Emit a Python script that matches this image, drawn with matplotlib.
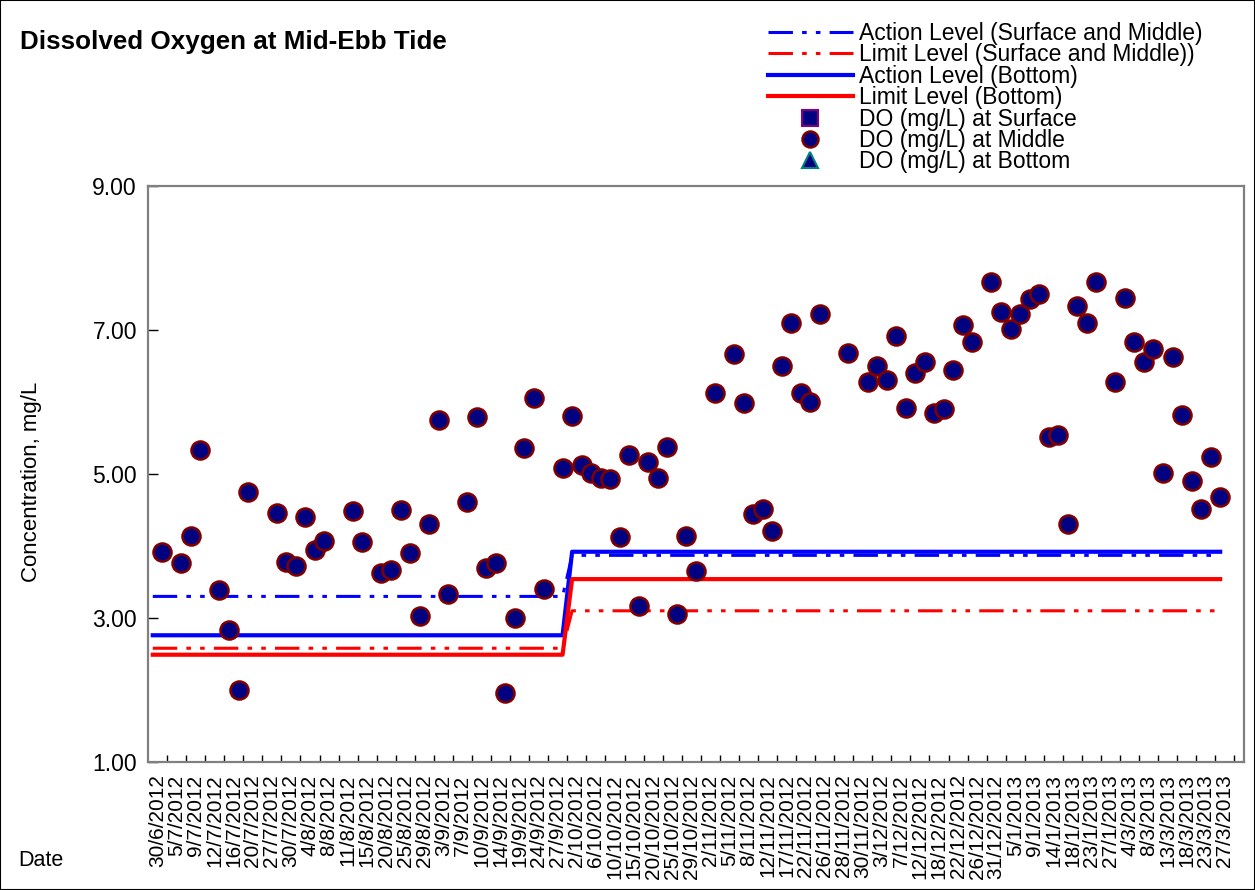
import numpy as np
import matplotlib.pyplot as plt
from matplotlib.patches import Rectangle

plt.rcParams['font.family'] = ['Liberation Sans', 'DejaVu Sans']

# category labels (every second sampling day is labelled)
date_labels = ["30/6/2012", "5/7/2012", "9/7/2012", "12/7/2012", "16/7/2012", "20/7/2012",
               "27/7/2012", "30/7/2012", "4/8/2012", "8/8/2012", "11/8/2012", "15/8/2012",
               "20/8/2012", "25/8/2012", "29/8/2012", "3/9/2012", "7/9/2012", "10/9/2012",
               "14/9/2012", "19/9/2012", "24/9/2012", "27/9/2012", "2/10/2012", "6/10/2012",
               "10/10/2012", "15/10/2012", "20/10/2012", "25/10/2012", "29/10/2012",
               "2/11/2012", "5/11/2012", "8/11/2012", "12/11/2012", "17/11/2012",
               "22/11/2012", "26/11/2012", "28/11/2012", "30/11/2012", "3/12/2012",
               "7/12/2012", "12/12/2012", "18/12/2012", "22/12/2012", "26/12/2012",
               "31/12/2012", "5/1/2013", "9/1/2013", "14/1/2013", "18/1/2013", "23/1/2013",
               "27/1/2013", "4/3/2013", "8/3/2013", "13/3/2013", "18/3/2013", "23/3/2013",
               "27/3/2013"]
n_cat = 115

nan = np.nan
# DO (mg/L) per category, mid-ebb
do_middle = [nan, 3.91, nan, 3.77, 4.14, 5.33, nan, 3.39, 2.84, 2.00,
             4.75, nan, nan, 4.46, 3.78, 3.72, 4.40, 3.95, 4.07, nan,
             nan, 4.49, 4.06, nan, 3.63, 3.67, 4.50, 3.90, 3.03, 4.31,
             5.75, 3.34, nan, 4.61, 5.79, 3.70, 3.76, 1.96, 3.00, 5.36,
             6.05, 3.40, nan, 5.08, 5.80, 5.13, 5.02, 4.94, 4.93, 4.12,
             5.26, 3.16, 5.16, 4.95, 5.38, 3.06, 4.14, 3.65, nan, 6.13,
             nan, 6.67, 5.99, 4.45, 4.51, 4.21, 6.50, 7.10, 6.12, 6.00,
             7.22, nan, nan, 6.68, nan, 6.28, 6.50, 6.31, 6.92, 5.91,
             6.40, 6.55, 5.85, 5.90, 6.45, 7.07, 6.83, nan, 7.67, 7.25,
             7.01, 7.22, 7.43, 7.50, 5.52, 5.54, 4.31, 7.33, 7.10, 7.66,
             nan, 6.28, 7.44, 6.84, 6.56, 6.73, 5.01, 6.63, 5.82, 4.90,
             4.52, 5.24, 4.68, nan, nan]
do_surface = do_middle
do_bottom = do_middle

# action / limit levels: (before, after) and number of categories for each
action_sm = [3.30, 3.87]
limit_sm = [2.58, 3.10]
action_bot = [2.76, 3.92]
limit_bot = [2.49, 3.54]
level_counts = [44, 69]

x = np.arange(n_cat)
xl = np.arange(sum(level_counts))

fig = plt.figure(figsize=(12.55, 8.9), dpi=100)
ax = fig.add_axes([148/1255, 1-762/890, 1096/1255, 576/890])

dash = (8, 3, 1.5, 3, 1.5, 3)
ax.plot(xl, np.repeat(action_sm, level_counts), color='#0000ff', lw=2.2,
        dashes=dash, label='Action Level (Surface and Middle)', zorder=2)
ax.plot(xl, np.repeat(limit_sm, level_counts), color='#ff0000', lw=2.2,
        dashes=dash, label='Limit Level (Surface and Middle))', zorder=2)
ax.plot(xl, np.repeat(action_bot, level_counts), color='#0000ff', lw=3.0,
        label='Action Level (Bottom)', zorder=2)
ax.plot(xl, np.repeat(limit_bot, level_counts), color='#ff0000', lw=3.0,
        label='Limit Level (Bottom)', zorder=2)

ax.plot(x, do_surface, ls='none', marker='s', ms=8, mfc='#000080', mec='#800080',
        mew=1.5, label='DO (mg/L) at Surface', zorder=3)
ax.plot(x, do_middle, ls='none', marker='o', ms=13, mfc='#000080', mec='#800000',
        mew=1.8, label='DO (mg/L) at Middle', zorder=5)
ax.plot(x, do_bottom, ls='none', marker='^', ms=8, mfc='#000080', mec='#008080',
        mew=1.5, label='DO (mg/L) at Bottom', zorder=4)

ax.set_xlim(-0.5, n_cat - 0.5)
ax.set_ylim(1, 9)
ax.set_yticks([1, 3, 5, 7, 9])
ax.set_yticklabels(['%.2f' % v for v in [1, 3, 5, 7, 9]], fontsize=16.5)
ax.tick_params(axis='y', direction='in', length=7, width=1, pad=8)

ax.set_xticks(np.arange(1.5, n_cat - 1, 2))
ax.set_xticklabels([])
ax.set_xticks(np.arange(0.5, 2 * len(date_labels), 2), minor=True)
ax.set_xticklabels(date_labels, minor=True, rotation=90, fontsize=15, va='top')
ax.tick_params(axis='x', which='major', direction='in', length=5, width=1)
ax.tick_params(axis='x', which='minor', length=0, pad=9)

for s in ax.spines.values():
    s.set_color('#808080')
    s.set_linewidth(1.6)

fig.text(20/1255, 1-42/890, 'Dissolved Oxygen at Mid-Ebb Tide', fontsize=18.7,
         fontweight='bold', va='center', ha='left')
fig.text(32/1255, 1-482/890, 'Concentration, mg/L', rotation=90, fontsize=16,
         va='center', ha='center')
fig.text(18/1255, 1-860/890, 'Date', fontsize=15.5, va='center', ha='left')

leg = fig.legend(loc='upper left', bbox_to_anchor=(768/1255, 1-22/890), frameon=False,
                 fontsize=16.5, handlelength=3.7, handletextpad=0.25, labelspacing=-0.07,
                 borderpad=0, borderaxespad=0)
for h in leg.legend_handles:
    if h.get_marker() not in (None, 'None', ''):
        h.set_markersize(11.5)

fig.patches.append(Rectangle((0, 0), 1, 1, transform=fig.transFigure, fill=False,
                             edgecolor='black', lw=1.5))

fig.savefig('out.png', dpi=100)
